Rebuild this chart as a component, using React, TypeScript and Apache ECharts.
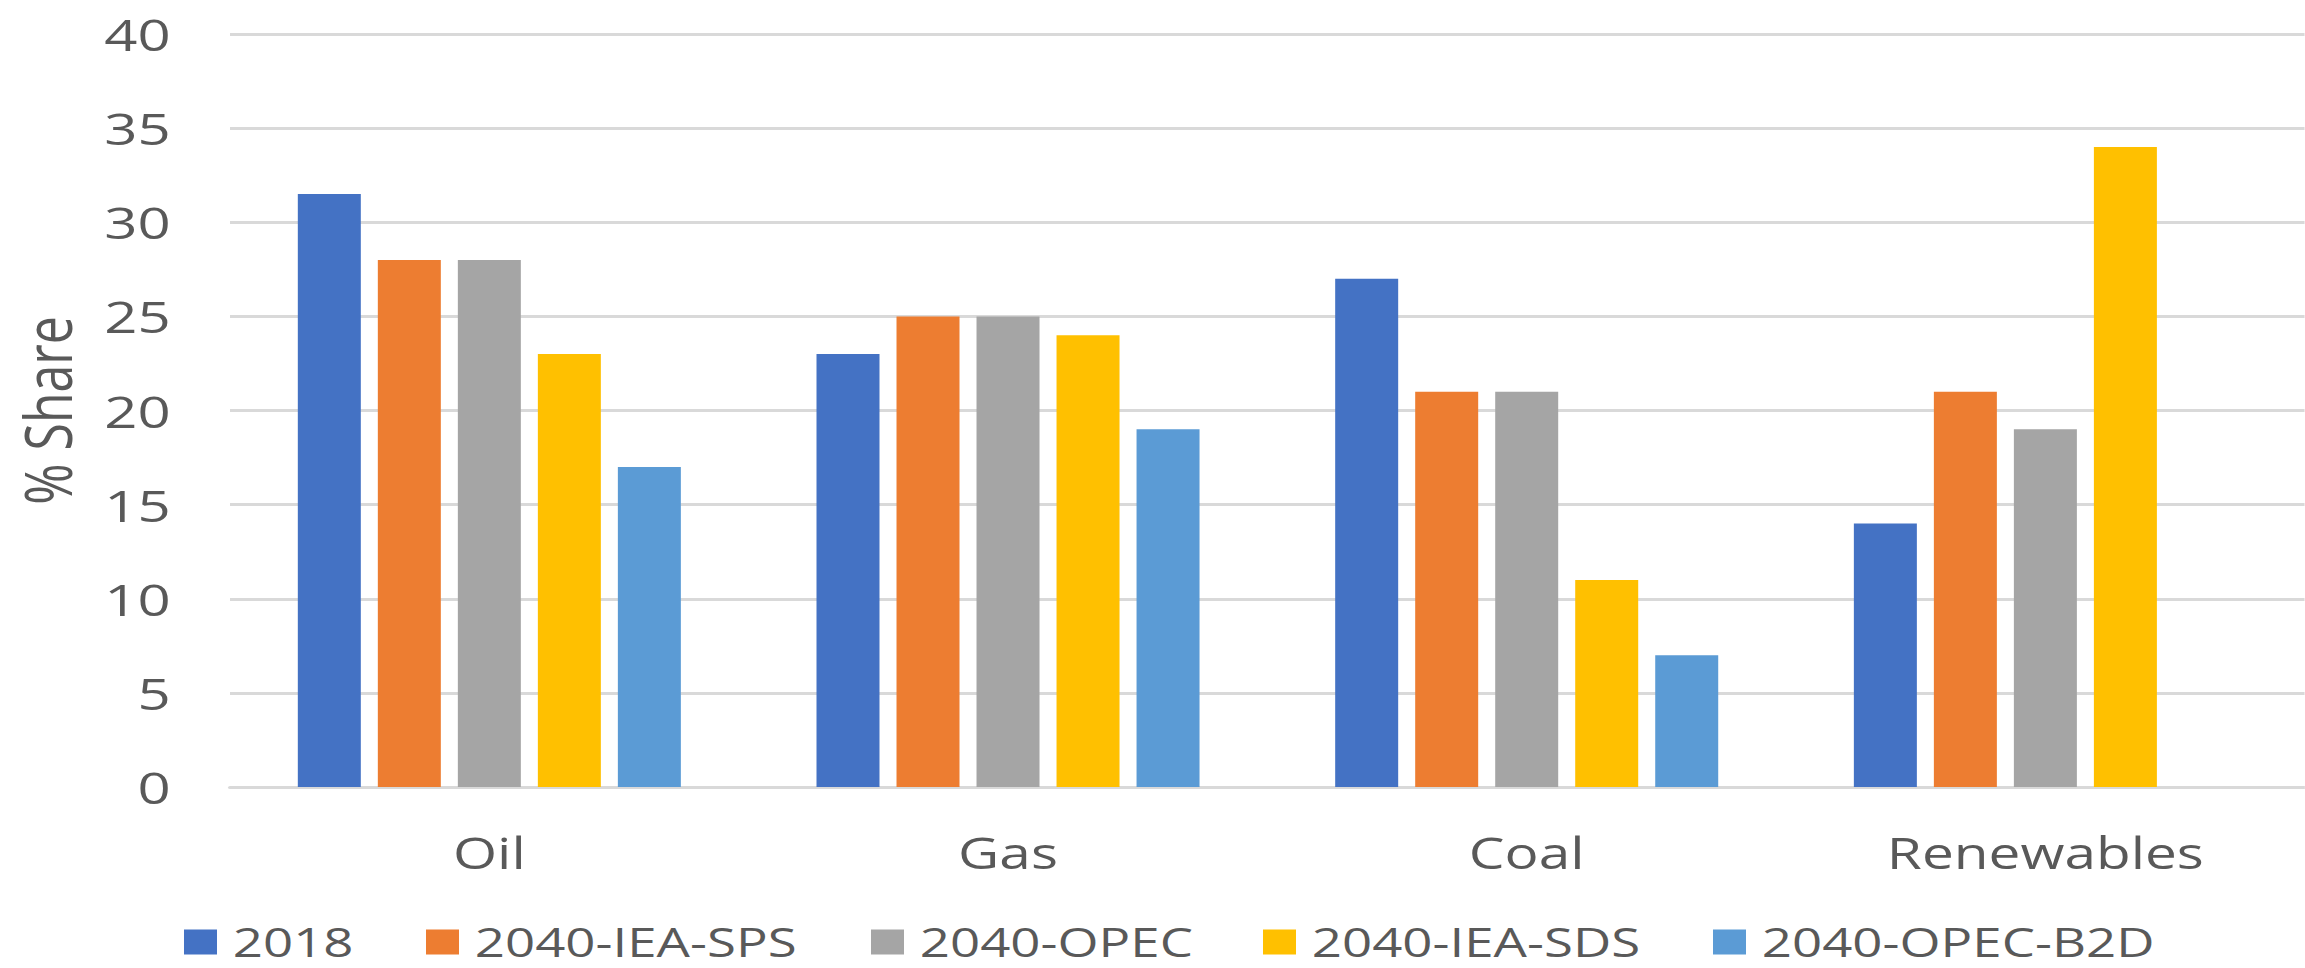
import React, { useEffect, useRef } from "react";
import * as echarts from "echarts";

const categories = ["Oil", "Gas", "Coal", "Renewables"];
const seriesNames = ["2018", "2040-IEA-SPS", "2040-OPEC", "2040-IEA-SDS", "2040-OPEC-B2D"];
const s2018 = [31.5, 23, 27, 14];
const sIeaSps = [28, 25, 21, 21];
const sOpec = [28, 25, 21, 19];
const sIeaSds = [23, 24, 11, 34];
const sOpecB2d = [17, 19, 7, null];
const yTicks = { min: 0, max: 40, interval: 5 };
const colors = ["#4472C4", "#ED7D31", "#A5A5A5", "#FFC000", "#5B9BD5"];

// The reference picture is horizontally stretched; the chart is drawn at a
// narrower width and stretched by the same factor.
const STRETCH = 1.32;
const FULL_W = 2305;
const FULL_H = 968;
const W = FULL_W / STRETCH;
const FONT = "'Open Sans', 'Noto Sans', sans-serif";
const TXT = "#595959";
const legendLeft = [184, 426, 871, 1263, 1713];

export default function App() {
  const ref = useRef<HTMLDivElement>(null);
  useEffect(() => {
    if (!ref.current) return;
    const chart = echarts.init(ref.current, undefined, { renderer: "svg" });
    const data = [s2018, sIeaSps, sOpec, sIeaSds, sOpecB2d];
    chart.setOption({
      animation: false,
      backgroundColor: "#ffffff",
      color: colors,
      textStyle: { fontFamily: FONT, color: TXT },
      grid: { left: 230 / STRETCH, top: 34, width: 2088 / STRETCH, bottom: FULL_H - 787, containLabel: false },
      legend: seriesNames.map((name, i) => ({
        data: [name],
        left: legendLeft[i] / STRETCH,
        top: 922,
        padding: 0,
        icon: "rect",
        itemWidth: 25,
        itemHeight: 25,
        textStyle: {
          fontFamily: FONT,
          fontSize: 40,
          lineHeight: 36,
          color: TXT,
          padding: [0, 0, 0, 7],
        },
      })),
      xAxis: {
        type: "category",
        data: categories,
        axisTick: { show: false },
        axisLine: { show: true, lineStyle: { color: "#D9D9D9", width: 3 } },
        axisLabel: { fontFamily: FONT, fontSize: 43, color: TXT, margin: 44 },
      },
      yAxis: {
        type: "value",
        min: yTicks.min,
        max: yTicks.max,
        interval: yTicks.interval,
        name: "% Share",
        nameLocation: "middle",
        nameGap: 114,
        nameTextStyle: { fontFamily: FONT, fontSize: 50, color: TXT },
        axisLine: { show: false },
        axisTick: { show: false },
        axisLabel: { fontFamily: FONT, fontSize: 44, color: TXT, margin: 45 },
        splitLine: { lineStyle: { color: "#D9D9D9", width: 3 } },
      },
      series: seriesNames.map((name, i) => ({
        name,
        type: "bar",
        data: data[i],
        barWidth: 63 / STRETCH,
        barGap: "27%",
        itemStyle: { color: colors[i] },
      })),
    });
    return () => chart.dispose();
  }, []);
  return (
    <div
      style={{
        position: "fixed",
        left: 0,
        top: 0,
        width: FULL_W,
        height: FULL_H,
        overflow: "hidden",
        background: "#fff",
      }}
    >
      <div
        ref={ref}
        style={{
          width: W,
          height: FULL_H,
          transform: `scaleX(${STRETCH})`,
          transformOrigin: "0 0",
        }}
      />
    </div>
  );
}
